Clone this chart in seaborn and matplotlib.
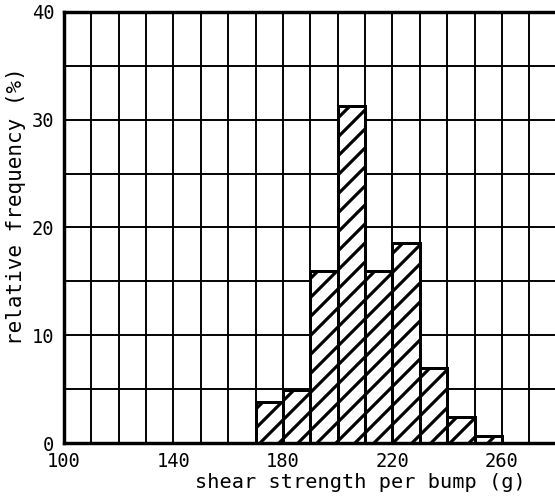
import matplotlib
matplotlib.use("Agg")
import matplotlib.pyplot as plt
import seaborn as sns
import numpy as np
import pandas as pd

# data (bins of 10 g)
bin_left = [170, 180, 190, 200, 210, 220, 230, 240, 250]
rel_freq = [3.8, 4.9, 16.0, 31.3, 16.0, 18.6, 7.0, 2.4, 0.65]
x_tick_labels = ["100", "140", "180", "220", "260"]
y_tick_labels = ["0", "10", "20", "30", "40"]

sns.set_theme(style="white")
plt.rcParams['font.family'] = ['DejaVu Sans Mono', 'DejaVu Sans']
plt.rcParams['hatch.linewidth'] = 4.0
plt.rcParams['hatch.color'] = 'black'

DPI = 57
K = 77 / 57
fig = plt.figure(figsize=(555 / DPI, 504 / DPI), dpi=DPI)
ax = fig.add_axes([64 / 555, 1 - 443 / 504, 1 - 64 / 555, (443 - 12) / 504])

df = pd.DataFrame({"x": [b + 5 for b in bin_left], "w": rel_freq})
edges = bin_left + [bin_left[-1] + 10]
sns.histplot(data=df, x="x", weights="w", bins=edges, stat="count",
             color="white", edgecolor="black", linewidth=2.8 * K, alpha=1,
             ax=ax, zorder=3)
for p in ax.patches:
    p.set_hatch("/")
    p.set_facecolor("white")
    p.set_edgecolor("black")

ax.set_xlim(100, 279.4)
ax.set_ylim(0, 40)

xt = list(range(100, 280, 10))
ax.set_xticks(xt)
ax.set_xticklabels([str(v) if str(v) in x_tick_labels else "" for v in xt])
yt = list(range(0, 45, 5))
ax.set_yticks(yt)
ax.set_yticklabels([str(v) if str(v) in y_tick_labels else "" for v in yt])
ax.tick_params(axis="both", length=0, labelsize=17.5 * K, colors="black")
ax.tick_params(axis="x", pad=8 * K)
ax.tick_params(axis="y", pad=9 * K)

ax.grid(True, color="black", linewidth=1.8 * K)
ax.set_axisbelow(True)

for s in ["left", "bottom", "top"]:
    ax.spines[s].set_visible(True)
    ax.spines[s].set_color("black")
    ax.spines[s].set_linewidth(3.2 * K)
ax.spines["right"].set_visible(False)
ax.spines["left"].set_zorder(5)
ax.spines["bottom"].set_zorder(5)

ax.set_xlabel("shear strength per bump (g)", fontsize=19 * K, color="black")
ax.set_ylabel("relative frequency (%)", fontsize=19.5 * K, color="black")
ax.xaxis.set_label_coords(0.603, -0.07)
ax.yaxis.set_label_coords(-0.078, 0.55)

fig.savefig("out.png", dpi=DPI)
